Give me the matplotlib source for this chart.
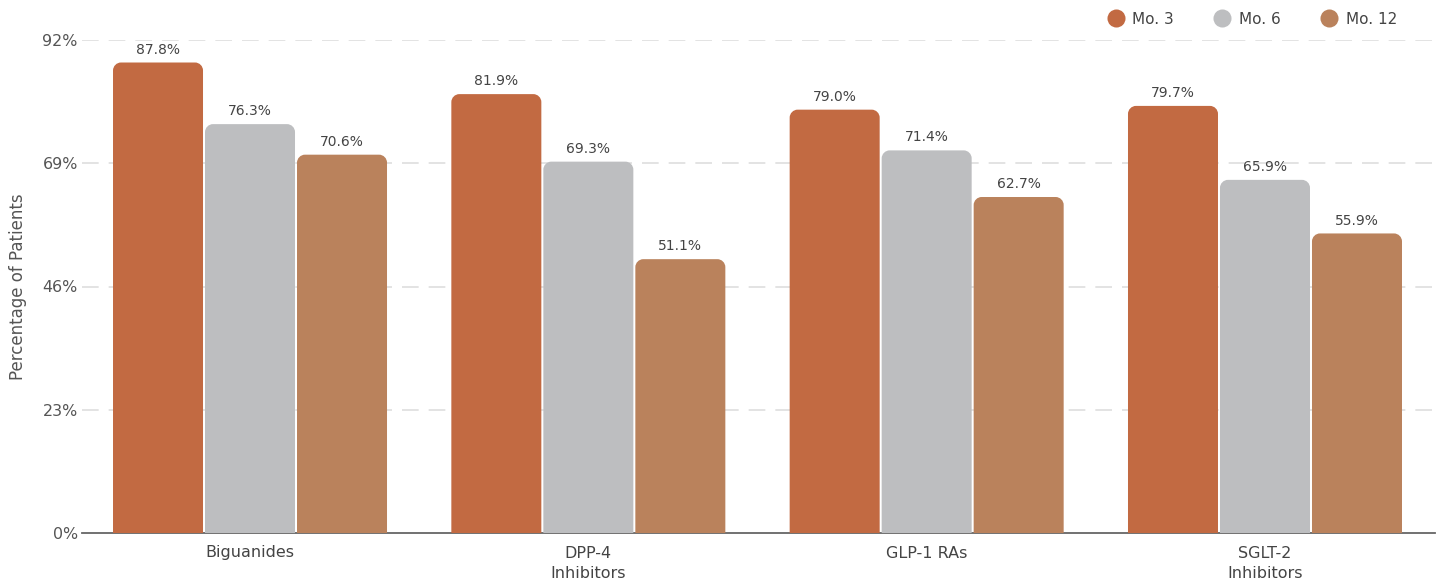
import matplotlib
matplotlib.use("Agg")
import matplotlib.pyplot as plt
from matplotlib.path import Path
from matplotlib.patches import PathPatch
from matplotlib.lines import Line2D
import numpy as np

categories = ["Biguanides", "DPP-4\nInhibitors", "GLP-1 RAs", "SGLT-2\nInhibitors"]
series_names = ["Mo. 3", "Mo. 6", "Mo. 12"]
mo3 = [87.8, 81.9, 79.0, 79.7]
mo6 = [76.3, 69.3, 71.4, 65.9]
mo12 = [70.6, 51.1, 62.7, 55.9]
yticks = [0, 23, 46, 69, 92]
colors = ["#C26A42", "#BDBEC0", "#BA825C"]

plt.rcParams['font.family'] = ['DejaVu Sans']
W, H = 1445, 584
fig = plt.figure(figsize=(W/100, H/100), dpi=100)
L, R, T, B = 82, 1435, 40, 533
ax = fig.add_axes([L/W, 1-B/H, (R-L)/W, (B-T)/H])
ax.set_xlim(-0.4966, 3.5025)
ax.set_ylim(0, 92)

x = np.arange(len(categories))
px_x = (R-L)/(3.5025+0.4966)
px_y = (B-T)/92
bw = 90/px_x
step = 92/px_x
data = [mo3, mo6, mo12]
r = 8

def rounded_bar(x0, w, h, color):
    rx = r/px_x
    ry = min(r/px_y, h)
    k = 0.5523
    verts = [(x0, 0), (x0, h-ry),
             (x0, h-ry+k*ry), (x0+rx-k*rx, h), (x0+rx, h),
             (x0+w-rx, h),
             (x0+w-rx+k*rx, h), (x0+w, h-ry+k*ry), (x0+w, h-ry),
             (x0+w, 0), (x0, 0)]
    codes = [Path.MOVETO, Path.LINETO,
             Path.CURVE4, Path.CURVE4, Path.CURVE4,
             Path.LINETO,
             Path.CURVE4, Path.CURVE4, Path.CURVE4,
             Path.LINETO, Path.CLOSEPOLY]
    ax.add_patch(PathPatch(Path(verts, codes), facecolor=color, edgecolor='none', zorder=3))

for i, (vals, c) in enumerate(zip(data, colors)):
    for j, v in enumerate(vals):
        xc = x[j] + (i-1)*step
        rounded_bar(xc - bw/2, bw, v, c)
        ax.text(xc, v + 1.1, f"{v:.1f}%", ha='center', va='bottom', fontsize=10, color='#444444', zorder=4)

for t in yticks[1:]:
    ax.axhline(t, color='#DEDEDE', lw=1.2, dashes=(10, 6), zorder=1)
for s in ['top', 'right', 'left']:
    ax.spines[s].set_visible(False)
ax.spines['bottom'].set_color('#666666')
ax.spines['bottom'].set_linewidth(1.3)
ax.set_yticks(yticks)
ax.set_yticklabels([f"{t}%" for t in yticks], fontsize=11.4, color='#555555')
ax.tick_params(axis='y', length=0, pad=3)
ax.set_xticks(x)
ax.set_xticklabels(categories, fontsize=11.5, color='#444444', linespacing=1.45)
ax.tick_params(axis='x', length=0, pad=9)
ax.set_ylabel("Percentage of Patients", fontsize=12, color='#555555')
ax.yaxis.set_label_coords((27-L)/(R-L), 0.5)

handles = [Line2D([], [], marker='o', ls='none', markersize=13, markerfacecolor=c, markeredgecolor='none') for c in colors]
fig.legend(handles, series_names, loc='center right', bbox_to_anchor=(1397/W, 1-19/H), ncol=3,
           frameon=False, fontsize=11, handletextpad=0.1, columnspacing=2.15, labelcolor='#444444',
           borderaxespad=0, borderpad=0)

fig.savefig("out.png", dpi=100)
